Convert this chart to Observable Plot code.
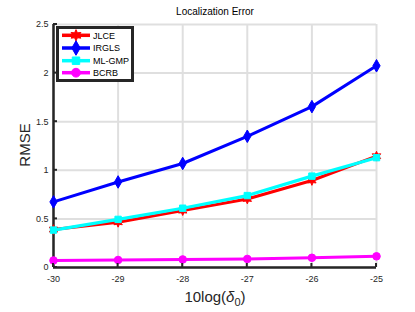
<!DOCTYPE html>
<html><head><meta charset="utf-8">
<script src="https://cdn.jsdelivr.net/npm/d3@7"></script>
<script src="https://cdn.jsdelivr.net/npm/@observablehq/plot@0.6"></script>
<style>body{margin:0;background:#fff}svg{display:block}</style>
</head><body><div id="chart"></div>
<script>
const xTicks = [-30, -29, -28, -27, -26, -25];
const yTicks = [0, 0.5, 1, 1.5, 2, 2.5];
const seriesNames = ["JLCE", "IRGLS", "ML-GMP", "BCRB"];
const seriesColors = ["#ff0000", "#0000ff", "#00ffff", "#ff00ff"];
const jlce  = [0.39, 0.465, 0.585, 0.705, 0.895, 1.145];
const irgls = [0.675, 0.88, 1.07, 1.35, 1.655, 2.075];
const mlgmp = [0.385, 0.495, 0.61, 0.74, 0.94, 1.13];
const bcrb  = [0.072, 0.077, 0.083, 0.088, 0.1, 0.115];
const titleText = "Localization Error";
const yLabel = "RMSE";

const hexagram = {
  draw(ctx, size) {
    const R = Math.sqrt(size / Math.PI) * 1.35, r = R * 0.5;
    for (let i = 0; i < 12; i++) {
      const a = -Math.PI / 2 + i * Math.PI / 6, rr = i % 2 ? r : R;
      const px = rr * Math.cos(a), py = rr * Math.sin(a);
      i ? ctx.lineTo(px, py) : ctx.moveTo(px, py);
    }
    ctx.closePath();
  }
};
const symbols = [hexagram, "diamond", "square", "circle"];
const radii = [3.6, 3.8, 3.6, 3.8];
const widths = [3, 3, 3.2, 3];

const allValues = [jlce, irgls, mlgmp, bcrb];
const rows = [];
allValues.forEach((vals, s) => vals.forEach((v, i) => rows.push({series: seriesNames[s], x: xTicks[i], y: v})));

const font = "'Liberation Sans', Arial, Helvetica, sans-serif";
const ink = "#262626";

const marks = [
  Plot.gridX(xTicks, {stroke: "#dfdfdf", strokeOpacity: 1, strokeWidth: 2}),
  Plot.gridY(yTicks, {stroke: "#dfdfdf", strokeOpacity: 1, strokeWidth: 2}),
  Plot.axisX(xTicks, {tickSize: 0, tickPadding: 8, fontSize: 9, fill: ink, label: null, tickFormat: d => String(d)}),
  Plot.axisY(yTicks, {tickSize: 0, tickPadding: 5, fontSize: 9, fill: ink, label: null, tickFormat: d => String(d)}),
  Plot.ruleY([yTicks[0]], {stroke: ink, strokeWidth: 2.5}),
  Plot.ruleX([xTicks[0]], {stroke: ink, strokeWidth: 2.5}),
];
seriesNames.forEach((name, s) => {
  const data = rows.filter(d => d.series === name);
  marks.push(Plot.line(data, {x: "x", y: "y", stroke: seriesColors[s], strokeWidth: widths[s]}));
  marks.push(Plot.dot(data, {x: "x", y: "y", symbol: symbols[s], r: radii[s], fill: seriesColors[s], stroke: seriesColors[s], strokeWidth: 1}));
});
marks.push(Plot.text([titleText], {frameAnchor: "top", dy: -10, fontSize: 10, fill: "#000", lineAnchor: "bottom"}));

const chart = Plot.plot({
  width: 415, height: 312,
  marginLeft: 53, marginRight: 39, marginTop: 24, marginBottom: 45,
  style: {fontFamily: font, background: "#fff"},
  x: {domain: [xTicks[0], xTicks[xTicks.length - 1]]},
  y: {domain: [yTicks[0], yTicks[yTicks.length - 1]]},
  marks
});
document.getElementById("chart").append(chart);

const svg = d3.select(chart);
const xs = chart.scale("x"), ys = chart.scale("y");
const x0 = xs.apply(xTicks[0]), y0 = ys.apply(yTicks[0]);
// inward ticks
svg.append("g").selectAll("line").data(yTicks).join("line")
  .attr("x1", x0).attr("x2", x0 + 4)
  .attr("y1", d => ys.apply(d)).attr("y2", d => ys.apply(d))
  .attr("stroke", ink).attr("stroke-width", 2);
svg.append("g").selectAll("line").data(xTicks).join("line")
  .attr("x1", d => xs.apply(d)).attr("x2", d => xs.apply(d))
  .attr("y1", y0).attr("y2", y0 - 4)
  .attr("stroke", ink).attr("stroke-width", 2);

// y label
svg.append("text").attr("transform", "translate(30,145) rotate(-90)")
  .attr("text-anchor", "middle").attr("font-size", 15).attr("font-family", font).attr("fill", ink).text(yLabel);
// x label with subscript
const xl = svg.append("text").attr("x", 215).attr("y", 302).attr("text-anchor", "middle")
  .attr("font-size", 15).attr("font-family", font).attr("fill", ink);
xl.append("tspan").text("10log(");
xl.append("tspan").attr("font-style", "italic").text("δ");
xl.append("tspan").attr("font-size", 11).attr("dy", 4).text("0");
xl.append("tspan").attr("dy", -4).text(")");

// legend
const lg = svg.append("g").attr("text-anchor", "start");
lg.append("rect").attr("x", 57.5).attr("y", 27.5).attr("width", 75).attr("height", 53)
  .attr("fill", "#fff").attr("stroke", ink).attr("stroke-width", 3);
const rowY = [35.3, 48, 60.7, 72.7];
seriesNames.forEach((name, s) => {
  const y = rowY[s];
  lg.append("line").attr("x1", 62).attr("x2", 90).attr("y1", y).attr("y2", y)
    .attr("stroke", seriesColors[s]).attr("stroke-width", 3.5);
  const type = typeof symbols[s] === "string"
    ? {diamond: d3.symbolDiamond, square: d3.symbolSquare, circle: d3.symbolCircle}[symbols[s]]
    : symbols[s];
  const r = radii[s] + 0.6;
  lg.append("path").attr("transform", `translate(76,${y})`)
    .attr("d", d3.symbol(type, Math.PI * r * r)())
    .attr("fill", seriesColors[s]).attr("stroke", seriesColors[s]);
  lg.append("text").attr("x", 93).attr("y", y + 3.3).attr("font-size", 9).attr("font-family", font)
    .attr("text-anchor", "start").attr("fill", "#000").text(name);
});
</script></body></html>
